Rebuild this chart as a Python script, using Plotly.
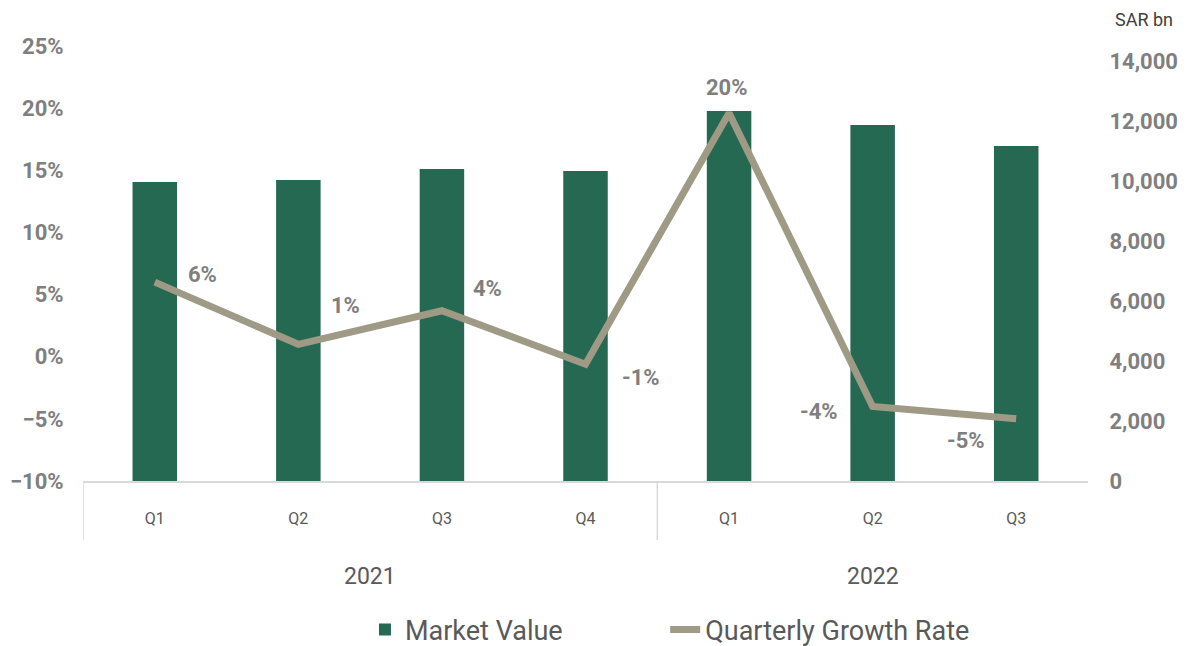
import plotly.graph_objects as go

# ---- data ----
years = ["2021", "2021", "2021", "2021", "2022", "2022", "2022"]
quarters = ["Q1", "Q2", "Q3", "Q4", "Q1", "Q2", "Q3"]
market_value = [9970, 10030, 10400, 10330, 12330, 11870, 11170]   # SAR bn
growth_rate = [0.060, 0.010, 0.037, -0.006, 0.196, -0.040, -0.050]

left_ticks = [-0.10, -0.05, 0.0, 0.05, 0.10, 0.15, 0.20, 0.25]
right_ticks = [0, 2000, 4000, 6000, 8000, 10000, 12000, 14000]

# label offsets (pixels) for the growth-rate data labels
label_shift = [(48, 8), (47, 39), (46, 22), (55, -13), (-2, 26), (-54, -5), (-50, -22)]

BAR = "#266953"
LINE = "#9e9a86"
GREY = "#7f7f7f"
DARK = "#595959"
FONT = "Roboto"

# the page body has an 8px default margin, so the figure is 8px smaller
W, H = 1182, 638

x_idx = list(range(len(quarters)))

fig = go.Figure()
fig.add_trace(go.Bar(
    x=x_idx, y=market_value, name="Market Value",
    marker=dict(color=BAR, line=dict(width=0)), width=0.31,
    yaxis="y", hoverinfo="y", legend="legend",
))
fig.add_trace(go.Scatter(
    x=x_idx, y=growth_rate, name="Quarterly Growth Rate", mode="lines",
    line=dict(color=LINE, width=7), yaxis="y2", legend="legend2",
))

# data labels
for xi, g, (dx, dy) in zip(x_idx, growth_rate, label_shift):
    fig.add_annotation(
        x=xi, y=g, xref="x", yref="y2", text=f"{round(g * 100):.0f}%",
        showarrow=False, xshift=dx, yshift=dy,
        font=dict(family=FONT, size=22, color=GREY, weight="bold"),
    )

# year group labels and dividers
groups = []
for i, yv in enumerate(years):
    if not groups or groups[-1][0] != yv:
        groups.append([yv, i, i])
    else:
        groups[-1][2] = i
for yv, a, b in groups:
    fig.add_annotation(
        x=(a + b) / 2, y=-0.22, xref="x", yref="paper", text=yv,
        showarrow=False, yanchor="middle",
        font=dict(family=FONT, size=23, color=DARK),
    )
for yv, a, b in groups:
    fig.add_shape(type="line", xref="x", yref="paper",
                  x0=a - 0.5, x1=a - 0.5, y0=0, y1=-0.136,
                  line=dict(color="#d9d9d9", width=1.5))

fig.add_annotation(
    x=1.087, y=1.06, xref="paper", yref="paper", text="SAR bn",
    xanchor="right", yanchor="middle",
    showarrow=False, font=dict(family=FONT, size=18, color="#404040"),
)

legend_style = dict(
    orientation="h", xref="container", yref="container",
    xanchor="left", y=0.025, yanchor="middle",
    font=dict(family=FONT, size=27, color=DARK),
)

fig.update_layout(
    width=W, height=H,
    margin=dict(l=75, r=102, t=38, b=165, autoexpand=False),
    plot_bgcolor="white", paper_bgcolor="white",
    font=dict(family=FONT),
    xaxis=dict(
        range=[-0.5, len(quarters) - 0.5],
        tickvals=x_idx, ticktext=quarters,
        showgrid=False, zeroline=False,
        showline=True, linecolor="#d9d9d9", linewidth=2,
        ticks="outside", ticklen=22, tickcolor="rgba(0,0,0,0)",
        tickfont=dict(family=FONT, size=16, color=DARK),
        automargin=False,
    ),
    yaxis=dict(
        side="right", range=[0, 14500],
        tickvals=right_ticks, tickformat=",.0f",
        showgrid=False, zeroline=False, showline=False,
        ticks="outside", ticklen=16, tickcolor="rgba(0,0,0,0)",
        tickfont=dict(family=FONT, size=22, color=GREY, weight="bold"),
        automargin=False,
    ),
    yaxis2=dict(
        overlaying="y", side="left", range=[-0.10, 0.25],
        tickvals=left_ticks, tickformat=".0%",
        showgrid=False, zeroline=False, showline=False,
        ticks="outside", ticklen=14, tickcolor="rgba(0,0,0,0)",
        tickfont=dict(family=FONT, size=22, color=GREY, weight="bold"),
        automargin=False,
    ),
    legend=dict(x=0.302, **legend_style),
    legend2=dict(x=0.556, **legend_style),
    showlegend=True,
)

fig.write_html("out.html")
